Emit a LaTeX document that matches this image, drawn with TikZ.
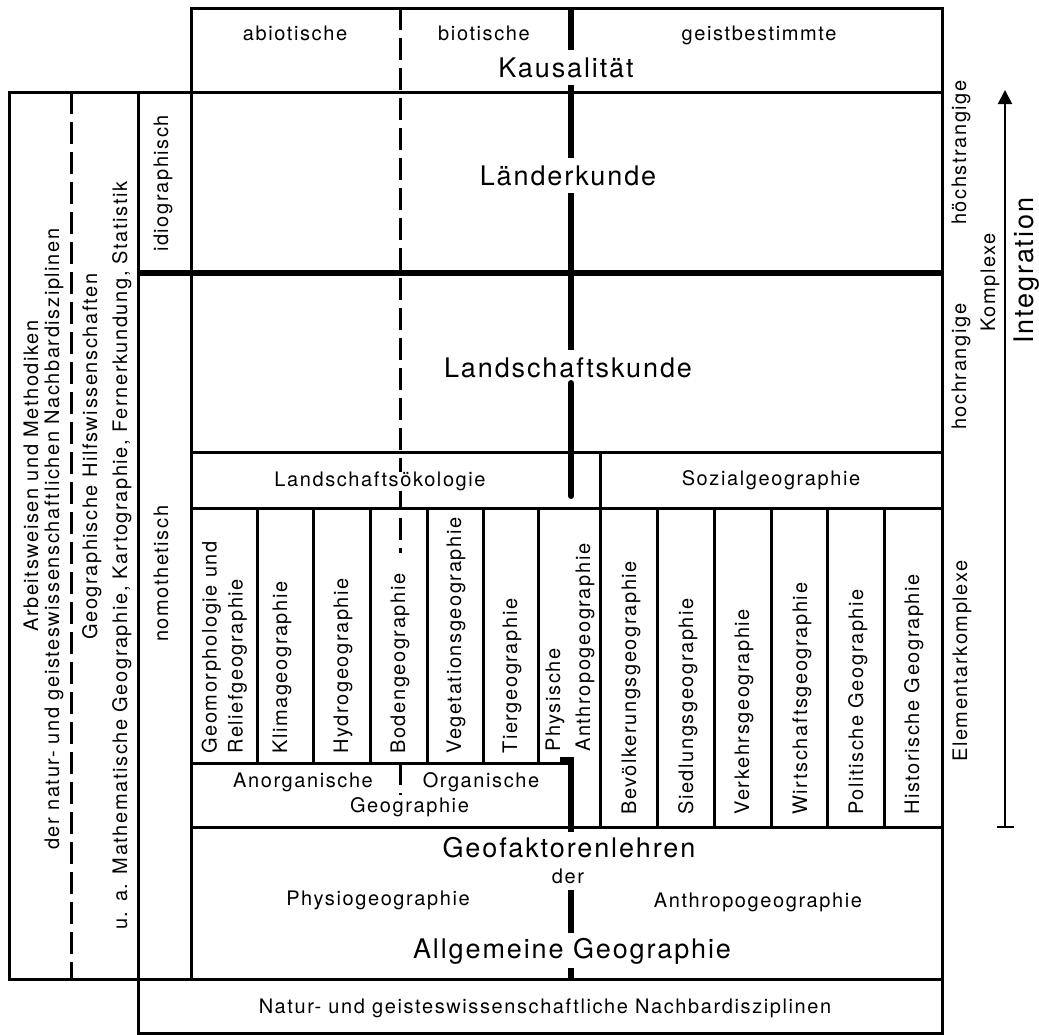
\documentclass[tikz,border=0pt]{standalone}
\usepackage{fontspec}
\setmainfont{TeX Gyre Heros}
\newfontfamily\smf[LetterSpace=8]{TeX Gyre Heros}
\newfontfamily\bgf[LetterSpace=7]{TeX Gyre Heros}
\usetikzlibrary{arrows.meta}
\begin{document}
\begin{tikzpicture}[x=1pt,y=-1pt,
  sm/.style={font=\smf\fontsize{20}{24}\selectfont,inner sep=0pt,text height=14.5pt,text depth=4.5pt},
  bg/.style={font=\bgf\fontsize{27}{30}\selectfont,inner sep=0pt,text height=19.5pt,text depth=5.5pt},
  vt/.style={sm,rotate=90,anchor=west},
  nl/.style={line width=3pt,line cap=rect},
  tl/.style={line width=6pt},
  dl/.style={line width=3pt,dash pattern=on 22pt off 8pt},
  al/.style={line width=2pt}]
\useasboundingbox (0,0) rectangle (1039,1034);
% ---- frames and rulings
\draw[nl] (191,8) -- (942,8);
\draw[nl] (191,8) -- (191,979);
\draw[nl] (942,8) -- (942,1033);
\draw[nl] (9,92) -- (942,92);
\draw[nl] (9,92) -- (9,979);
\draw[nl] (138,92) -- (138,1033);
\draw[nl] (9,979) -- (942,979);
\draw[nl] (138,1033) -- (942,1033);
\draw[tl] (138,273) -- (942,273);
\draw[nl] (191,452) -- (942,452);
\draw[nl] (191,508) -- (942,508);
\draw[nl] (191,763) -- (571,763);
\draw[nl] (191,827) -- (942,827);
\draw[nl] (600,452) -- (600,827);
\foreach \x in {257,313,370,427,483,538} \draw[nl] (\x,508) -- (\x,763);
\foreach \x in {657,714,771,827,884} \draw[nl] (\x,508) -- (\x,827);
% dashed lines
\draw[dl] (71,92) -- (71,979);
\draw[dl] (400,8) -- (400,553);
\draw[dl] (400,763) -- (400,795);
% thick divider
\draw[tl] (571,8) -- (571,50);
\draw[tl] (571,85) -- (571,158);
\draw[tl] (571,193) -- (571,350);
\draw[tl,line cap=round] (571,383) -- (571,496);
\draw[tl] (560,760) -- (571,760) -- (571,832);
\draw[tl] (571,890) -- (571,933);
\draw[tl] (571,968) -- (571,979);
% integration arrow
\coordinate (abot) at (1005,827);
\coordinate (atop) at (1005,90);
\coordinate (tl1) at (997,827);
\coordinate (tr1) at (1014,827);
\draw[al,-{Triangle[length=14pt,width=14pt]}] (abot) -- (atop);
\draw[al] (tl1) -- (tr1);
% ---- texts: top
\node[sm] (abio) at (295,35) {abiotische};
\node[sm] (bio) at (484,35) {biotische};
\node[sm] (geist) at (759,35) {geistbestimmte};
\node[bg] (kaus) at (566,70) {Kausalität};
\node[bg] (laend) at (568,178) {Länderkunde};
\node[bg] (lsk) at (568,370) {Landschaftskunde};
\node[sm,fill=white] (lsoek) at (380,481) {Landschaftsökologie};
\node[sm] (sozial) at (771,480) {Sozialgeographie};
% columns
\node[vt] (geo1) at (211.7,754) {Geomorphologie und};
\node[vt] (geo2) at (237.7,754) {Reliefgeographie};
\node[vt] (klima) at (282,754) {Klimageographie};
\node[vt] (hydro) at (343,754) {Hydrogeographie};
\node[vt,fill=white] (boden) at (400,754) {Bodengeographie};
\node[vt] (veg) at (456,754) {Vegetationsgeographie};
\node[vt] (tier) at (512,754) {Tiergeographie};
\node[vt] (phys) at (555,752) {Physische};
\node[vt] (anthro) at (585,752) {Anthropogeographie};
\node[vt] (bev) at (631,815) {Bevölkerungsgeographie};
\node[vt] (sied) at (688,815) {Siedlungsgeographie};
\node[vt] (verk) at (744,815) {Verkehrsgeographie};
\node[vt] (wirt) at (802,815) {Wirtschaftsgeographie};
\node[vt] (pol) at (858,815) {Politische Geographie};
\node[vt] (hist) at (914,815) {Historische Geographie};
% anorganisch / organisch
\node[sm] (anorg) at (303,782) {Anorganische};
\node[sm] (org) at (481,782) {Organische};
\node[sm] (geogr) at (409.5,807) {Geographie};
% geofaktoren
\node[bg] (geof) at (569,850) {Geofaktorenlehren};
\node[sm] (der) at (568,878) {der};
\node[sm] (physio) at (378,900) {Physiogeographie};
\node[sm] (anthr2) at (758,902) {Anthropogeographie};
\node[bg] (allg) at (572,951) {Allgemeine Geographie};
\node[sm] (nach) at (545,1008) {Natur- und geisteswissenschaftliche Nachbardisziplinen};
% left column
\node[vt] (arb) at (33,632) {Arbeitsweisen und Methodiken};
\node[vt] (dern) at (54,850) {der natur- und geisteswissenschaftlichen Nachbardisziplinen};
\node[vt] (hilf) at (92,640) {Geographische Hilfswissenschaften};
\node[vt] (ua) at (122,930) {u. a. Mathematische Geographie, Kartographie, Fernerkundung, Statistik};
\node[vt] (idio) at (163,252) {idiographisch};
\node[vt] (nomo) at (163,642) {nomothetisch};
% right side
\node[vt] (hoechst) at (961,225) {höchstrangige};
\node[vt] (kompl) at (990,332) {Komplexe};
\node[vt] (hoch) at (961,430) {hochrangige};
\node[vt] (elem) at (962,762) {Elementarkomplexe};
\node[bg,rotate=90,anchor=west] (integ) at (1026,344) {Integration};
\end{tikzpicture}
\end{document}
